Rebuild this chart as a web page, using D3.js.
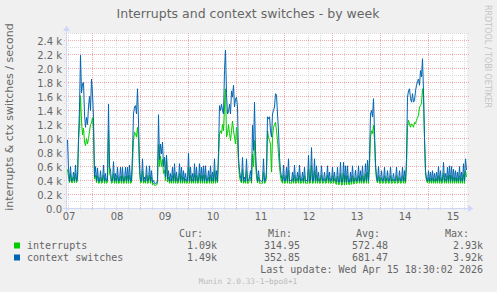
<!DOCTYPE html>
<html><head><meta charset="utf-8">
<script src="https://cdn.jsdelivr.net/npm/d3@7"></script>
<style>
html,body{margin:0;padding:0;background:#F0F0F0;}
svg{display:block;}
</style></head><body>
<svg id="chart" width="497" height="292"></svg>
<script>
const chartTitle = "Interrupts and context switches - by week";
const yAxisTitle = "interrupts & ctx switches / second";
const sideText = "RRDTOOL / TOBI OETIKER";
const versionText = "Munin 2.0.33-1~bpo8+1";
const lastUpdateText = "Last update: Wed Apr 15 18:30:02 2026";
const seriesNames = ["interrupts", "context switches"];
const seriesColors = ["#00CC00", "#0066B3"];
const legendHeaders = ["Cur:", "Min:", "Avg:", "Max:"];
const legendCur = ["1.09k", "1.49k"];
const legendMin = ["314.95", "352.85"];
const legendAvg = ["572.48", "681.47"];
const legendMax = ["2.93k", "3.92k"];
const dayLabels = ["07","08","09","10","11","12","13","14","15"];
const dayNoons = [7,8,9,10,11,12,13,14,15];
const yTickValues = [0,200,400,600,800,1000,1200,1400,1600,1800,2000,2200,2400];
const yTickLabels = ["0.0","0.2 k","0.4 k","0.6 k","0.8 k","1.0 k","1.2 k","1.4 k","1.6 k","1.8 k","2.0 k","2.2 k","2.4 k"];

// 30-minute samples starting Apr 7 11:15 UTC
const irqValues = [
560,450,370,500,370,370,450,370,500,370,
400,950,1200,1610,1250,1050,1150,950,900,1000,
920,1000,1100,1200,1220,1300,1100,420,480,370,
470,360,365,450,360,370,480,360,430,360,
380,1120,500,460,360,370,500,360,430,360,
470,360,365,460,360,470,360,365,460,360,
470,360,480,360,370,650,970,1090,1070,1020,
1160,970,540,370,370,540,360,400,360,480,
360,365,480,360,450,340,360,330,330,335,
360,920,600,750,600,700,500,550,400,760,
380,450,360,420,360,470,360,500,360,440,
360,365,500,360,470,360,450,360,420,360,
365,600,360,470,360,420,360,500,360,470,
360,365,500,360,470,360,480,360,480,360,
365,450,360,480,360,430,360,540,360,450,
365,700,1070,1110,1070,1200,1110,1450,1710,1020,
1070,1200,1070,970,1110,1250,1110,1020,920,1160,
970,640,450,390,365,560,360,400,360,540,
360,365,400,450,360,780,600,970,640,450,
365,450,360,365,360,360,520,360,370,450,
1110,1020,970,920,520,1020,1160,1200,1230,1110,
970,780,590,450,390,360,480,360,365,470,
360,540,360,365,360,430,360,480,360,365,
430,360,480,360,365,430,360,470,360,365,
360,560,360,365,620,360,365,540,360,480,
360,430,360,365,480,360,365,430,360,365,
480,360,430,360,365,470,360,430,355,345,
460,340,345,500,335,340,500,335,470,340,
470,345,340,430,345,470,350,355,440,360,
365,470,360,440,360,470,360,365,490,360,
520,360,600,1020,1110,1070,1190,970,590,400,
365,470,360,365,440,360,365,470,360,365,
440,360,365,470,360,365,420,360,365,470,
360,365,440,360,365,470,360,440,360,600,
1160,1260,1210,1160,1210,1190,1160,1230,1210,1260,
1300,1330,1450,1470,1500,1710,1590,970,500,390,
365,440,360,430,360,440,360,420,360,430,
360,470,360,440,360,365,500,360,420,360,
470,360,480,360,470,360,450,360,440,360,
430,360,470,360,430,360,490,360,540,450
];
const ctxValues = [
980,560,390,600,390,400,520,390,620,390,
450,1000,1450,2190,1650,1780,1800,1350,1160,1300,
1200,1450,1600,1400,1850,1640,1300,450,600,390,
580,390,390,540,390,400,620,390,500,390,
420,1490,600,550,390,400,670,390,500,390,
590,390,400,590,390,590,390,400,590,390,
590,390,620,390,400,800,1350,1450,1470,1350,
1710,1250,630,390,400,710,390,450,390,610,
390,400,610,390,540,370,400,360,355,360,
400,1340,700,920,780,950,600,730,450,760,
420,540,390,500,390,590,390,640,390,520,
390,400,640,390,590,390,540,390,500,390,
400,790,390,590,390,500,390,640,390,590,
390,400,640,390,590,390,610,390,610,390,
400,540,390,610,390,520,390,710,390,540,
390,800,1470,1400,1490,1400,1350,1970,2260,1640,
1350,1380,1490,1350,1680,1590,1760,1450,1570,1590,
1450,730,540,450,390,730,390,450,390,710,
390,400,450,540,390,1190,830,1520,830,550,
390,540,390,400,390,390,710,390,400,540,
1310,1280,1310,1110,1020,1350,1400,1450,1640,1620,
1350,1110,730,540,450,390,620,390,400,590,
390,710,390,400,390,520,390,620,390,400,
520,390,620,390,400,520,390,590,390,400,
390,760,390,400,870,390,400,710,390,610,
390,520,390,400,610,390,400,520,390,400,
610,390,520,390,400,590,390,520,390,380,
590,375,380,660,375,380,660,375,610,375,
610,380,375,520,380,610,385,390,550,390,
400,610,390,540,390,610,390,400,640,390,
690,390,730,1350,1400,1310,1570,1110,640,450,
390,600,390,400,540,390,400,590,390,400,
540,390,400,590,390,400,500,390,400,590,
390,400,540,390,400,590,390,540,390,700,
1590,1680,1710,1570,1520,1640,1520,1540,1680,1760,
1810,1850,1760,1970,1880,2140,1680,1020,540,420,
390,540,390,520,390,540,390,500,390,520,
390,600,390,540,390,400,660,390,500,390,
590,390,610,390,600,390,560,390,540,390,
520,390,600,390,520,390,640,390,710,550
];

const HOUR = 3600*1000;
const startTime = Date.UTC(2026, 3, 7, 11, 15);
const endTime = startTime + 200*HOUR;
const step = 0.5*HOUR;

const FONT = "DejaVu Sans, sans-serif";
const MONO = "DejaVu Sans Mono, monospace";
const fontColor = "#666666";
const axisColor = "#CFD6F8";

const svg = d3.select("#chart");
const x = d3.scaleUtc().domain([startTime, endTime]).range([67, 467]);
const y = d3.scaleLinear().domain([0, 2500]).range([208.5, 33.5]);

// canvas
svg.append("rect").attr("x", 67).attr("y", 33).attr("width", 400).attr("height", 175).attr("fill", "#FFFFFF");

const px = v => Math.round(v - 0.5) + 0.5;
const grid = svg.append("g").attr("shape-rendering", "crispEdges");

// minor grid
const minorH = d3.range(100, 2501, 100).filter(v => v % 200 !== 0);
grid.selectAll(".mh").data(minorH).join("line")
  .attr("x1", 64).attr("x2", 469).attr("y1", d => px(y(d))).attr("y2", d => px(y(d)))
  .attr("stroke", "#D9D9D9").attr("stroke-dasharray", "1,1");
const minorV = d3.utcHour.every(6).range(new Date(startTime), new Date(endTime)).filter(d => d.getUTCHours() !== 0);
grid.selectAll(".mv").data(minorV).join("line")
  .attr("x1", d => px(x(d))).attr("x2", d => px(x(d))).attr("y1", 33).attr("y2", 211)
  .attr("stroke", "#D9D9D9").attr("stroke-dasharray", "1,1");
// major grid
const majorH = yTickValues.filter(v => v > 0);
grid.selectAll(".Mh").data(majorH).join("line")
  .attr("x1", 64).attr("x2", 469).attr("y1", d => px(y(d))).attr("y2", d => px(y(d)))
  .attr("stroke", "#F5ABAB").attr("stroke-dasharray", "1,1");
const majorV = d3.utcDay.range(new Date(startTime), new Date(endTime));
grid.selectAll(".Mv").data(majorV).join("line")
  .attr("x1", d => px(x(d))).attr("x2", d => px(x(d))).attr("y1", 33).attr("y2", 211)
  .attr("stroke", "#F5ABAB").attr("stroke-dasharray", "1,1");

// series lines
const times = d3.range(ctxValues.length).map(i => startTime + i*step + step/2);
const line = d3.line().x((d, i) => x(times[i])).y(d => y(d));
svg.append("path").datum(irqValues).attr("d", line).attr("fill", "none")
  .attr("stroke", seriesColors[0]).attr("stroke-width", 1);
svg.append("path").datum(ctxValues).attr("d", line).attr("fill", "none")
  .attr("stroke", seriesColors[1]).attr("stroke-width", 1);

// axes lines and arrows
const ax = svg.append("g").attr("shape-rendering", "crispEdges");
ax.append("line").attr("x1", 63).attr("x2", 469).attr("y1", 208.5).attr("y2", 208.5).attr("stroke", axisColor);
ax.append("line").attr("x1", 66.5).attr("x2", 66.5).attr("y1", 212).attr("y2", 30).attr("stroke", axisColor);
svg.append("path").attr("d", "M468,205 L473.5,208.5 L468,212 Z").attr("fill", axisColor);
svg.append("path").attr("d", "M63,31 L66.5,25.5 L70,31 Z").attr("fill", axisColor);

// y axis labels
const yAxis = d3.axisLeft(y).tickValues(yTickValues)
  .tickFormat((d, i) => yTickLabels[i]).tickSize(0).tickPadding(4);
const yg = svg.append("g").attr("transform", "translate(66,0)").call(yAxis);
yg.select(".domain").remove();
yg.selectAll("text").attr("font-family", FONT).attr("font-size", "10px").attr("fill", fontColor)
  .attr("dy", "0.36em");

// x axis labels at noon
const noonDates = dayNoons.map(d => new Date(Date.UTC(2026, 3, d, 12)));
const xAxis = d3.axisBottom(x).tickValues(noonDates)
  .tickFormat((d, i) => dayLabels[i]).tickSize(0).tickPadding(0);
const xg = svg.append("g").attr("transform", "translate(0,208)").call(xAxis);
xg.select(".domain").remove();
xg.selectAll("text").attr("font-family", FONT).attr("font-size", "10px").attr("fill", fontColor)
  .attr("dy", null).attr("y", 12);

// title
svg.append("text").attr("x", 248).attr("y", 17.5).attr("text-anchor", "middle")
  .attr("font-family", FONT).attr("font-size", "12.5px").attr("fill", fontColor).text(chartTitle);
// y title
svg.append("text").attr("transform", "translate(12.5,117) rotate(-90)").attr("text-anchor", "middle")
  .attr("font-family", FONT).attr("font-size", "11px").attr("fill", fontColor).text(yAxisTitle);
// side text
svg.append("text").attr("transform", "translate(485,5) rotate(90)").attr("text-anchor", "start")
  .attr("font-family", FONT).attr("font-size", "8px").attr("fill", "#C4C4C4").text(sideText);

// legend
const lg = svg.append("g").attr("font-family", MONO).attr("font-size", "10px").attr("fill", fontColor);
const headerX = [203, 292, 380, 469];
legendHeaders.forEach((h, i) => {
  lg.append("text").attr("x", headerX[i]).attr("y", 236.5).attr("text-anchor", "end").text(h);
});
const rowY = [249, 261];
const colX = [217, 300, 388, 483];
seriesNames.forEach((name, i) => {
  svg.append("rect").attr("x", 14).attr("y", rowY[i] - 6.5).attr("width", 6).attr("height", 6)
    .attr("fill", seriesColors[i]);
  lg.append("text").attr("x", 27).attr("y", rowY[i]).text(name);
  [legendCur, legendMin, legendAvg, legendMax].forEach((arr, j) => {
    lg.append("text").attr("x", colX[j]).attr("y", rowY[i]).attr("text-anchor", "end").text(arr[i]);
  });
});
lg.append("text").attr("x", 483).attr("y", 273).attr("text-anchor", "end").text(lastUpdateText);
svg.append("text").attr("x", 248).attr("y", 284).attr("text-anchor", "middle")
  .attr("font-family", MONO).attr("font-size", "7.8px").attr("fill", "#BBBBBB").text(versionText);
</script>
</body></html>
